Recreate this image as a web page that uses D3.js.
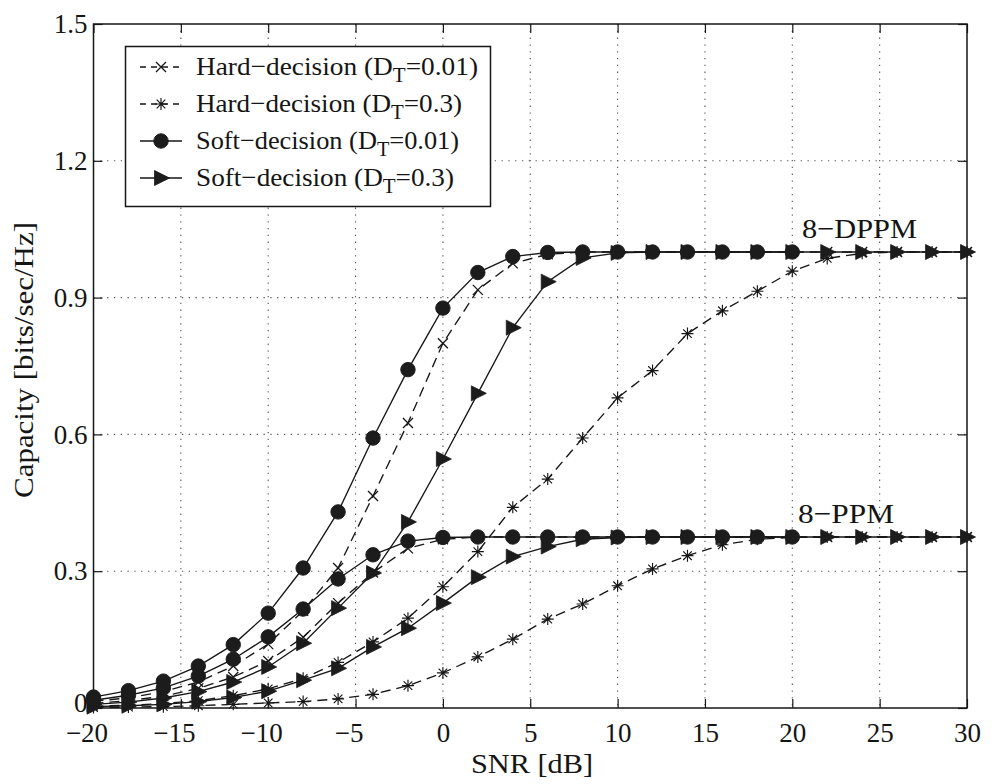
<!DOCTYPE html>
<html>
<head>
<meta charset="utf-8">
<script src="https://cdn.jsdelivr.net/npm/d3@7"></script>
<style>
  html, body { margin: 0; padding: 0; background: #fff; }
  svg { display: block; }
  text { font-family: "Liberation Serif", "Times New Roman", serif; fill: #151515; }
</style>
</head>
<body>
<svg id="chart" width="1006" height="784"></svg>
<script>
// ---------------- data ----------------
const snr = [-20,-18,-16,-14,-12,-10,-8,-6,-4,-2,0,2,4,6,8,10,12,14,16,18,20,22,24,26,28,30];
const snrCircle = [-20,-18,-16,-14,-12,-10,-8,-6,-4,-2,0,2,4,6,8,10,12,14,16,18,20];

// 8-DPPM curves
const hardDppm001 = [0.015,0.022,0.036,0.057,0.092,0.140,0.213,0.307,0.465,0.625,0.800,0.917,0.975,0.995,1.0,1.0,1.0,1.0,1.0,1.0,1.0,1.0,1.0,1.0,1.0,1.0];
const hardDppm03  = [0.004,0.006,0.010,0.016,0.027,0.042,0.065,0.100,0.145,0.197,0.266,0.343,0.440,0.502,0.592,0.680,0.740,0.821,0.871,0.914,0.958,0.986,0.997,1.0,1.0,1.0];
const softDppm001 = [0.024,0.038,0.059,0.092,0.139,0.208,0.307,0.430,0.592,0.742,0.877,0.955,0.990,0.999,1.0,1.0,1.0,1.0,1.0,1.0,1.0];
const softDppm03  = [0.008,0.013,0.022,0.036,0.057,0.090,0.142,0.219,0.296,0.408,0.546,0.690,0.834,0.935,0.987,0.998,1.0,1.0,1.0,1.0,1.0,1.0,1.0,1.0,1.0,1.0];

// 8-PPM curves
const hardPpm001 = [0.010,0.016,0.026,0.043,0.068,0.103,0.155,0.230,0.297,0.350,0.370,0.375,0.375,0.375,0.375,0.375,0.375,0.375,0.375,0.375,0.375,0.375,0.375,0.375,0.375,0.375];
const hardPpm03  = [0.001,0.002,0.003,0.005,0.008,0.011,0.014,0.020,0.030,0.049,0.077,0.112,0.151,0.195,0.228,0.268,0.305,0.334,0.358,0.370,0.374,0.375,0.375,0.375,0.375,0.375];
const softPpm001 = [0.017,0.028,0.044,0.070,0.107,0.156,0.217,0.283,0.336,0.366,0.374,0.375,0.375,0.375,0.375,0.375,0.375,0.375,0.375,0.375,0.375];
const softPpm03  = [0.003,0.005,0.008,0.014,0.023,0.037,0.061,0.087,0.134,0.175,0.230,0.287,0.332,0.354,0.370,0.374,0.375,0.375,0.375,0.375,0.375,0.375,0.375,0.375,0.375,0.375];

const xTicks = [-20,-15,-10,-5,0,5,10,15,20,25,30];
const yTicks = [0,0.3,0.6,0.9,1.2,1.5];
const yTickLabels = ["0","0.3","0.6","0.9","1.2","1.5"];
const legendLabels = [
  ["Hard\u2212decision (D","T","=0.01)"],
  ["Hard\u2212decision (D","T","=0.3)"],
  ["Soft\u2212decision (D","T","=0.01)"],
  ["Soft\u2212decision (D","T","=0.3)"]
];
const curveLabels = ["8\u2212DPPM","8\u2212PPM"];
const xTitle = "SNR [dB]";
const yTitle = "Capacity [bits/sec/Hz]";

// ---------------- layout ----------------
const svg = d3.select("#chart");
const L = 93.5, R = 967, T = 24, B = 708;
const x = d3.scaleLinear().domain([-20,30]).range([L,R]);
const y = d3.scaleLinear().domain([0,1.5]).range([B,T]);
const ink = "#161616";

function fitWidth(sel, w) {
  sel.attr("textLength", w).attr("lengthAdjust", "spacingAndGlyphs");
}

// grid
const grid = svg.append("g").attr("stroke", "#555").attr("stroke-width", 1.1)
  .attr("stroke-dasharray", "1.3,5.5");
grid.selectAll(".gx").data(xTicks.slice(1, -1)).join("line")
  .attr("x1", d => x(d)).attr("x2", d => x(d)).attr("y1", T).attr("y2", B);
grid.selectAll(".gy").data(yTicks.slice(1, -1)).join("line")
  .attr("y1", d => y(d)).attr("y2", d => y(d)).attr("x1", L).attr("x2", R);

// axes (inward ticks, matlab style)
const fmtX = d => (d < 0 ? "\u2212" + Math.abs(d) : String(d));
const axB = svg.append("g").attr("transform", `translate(0,${B})`)
  .call(d3.axisBottom(x).tickValues(xTicks).tickSize(-9).tickPadding(15).tickFormat(fmtX));
const axT = svg.append("g").attr("transform", `translate(0,${T})`)
  .call(d3.axisTop(x).tickValues(xTicks).tickSize(-9).tickFormat(""));
const axL = svg.append("g").attr("transform", `translate(${L},0)`)
  .call(d3.axisLeft(y).tickValues(yTicks).tickSize(-9).tickPadding(6).tickFormat((d,i) => yTickLabels[i]));
const axR = svg.append("g").attr("transform", `translate(${R},0)`)
  .call(d3.axisRight(y).tickValues(yTicks).tickSize(-9).tickFormat(""));
[axB, axT, axL, axR].forEach(a => {
  a.select(".domain").remove();
  a.selectAll("line").attr("stroke", ink).attr("stroke-width", 1.2);
  a.selectAll("text").attr("font-size", 27).attr("font-family", "Liberation Serif").attr("fill", ink);
});
axL.selectAll("text").attr("dy", d => (d === 0 ? "0.12em" : "0.32em"));
axB.selectAll("text").attr("dx", d => (d < 0 ? -7 : 0));

// frame
svg.append("rect").attr("x", L).attr("y", T).attr("width", R - L).attr("height", B - T)
  .attr("fill", "none").attr("stroke", ink).attr("stroke-width", 1.5);

// ---------------- markers ----------------
function drawMarker(g, type) {
  if (type === "circle") {
    g.append("circle").attr("r", 7.2).attr("fill", "#1c1c1c").attr("stroke", "#1c1c1c");
  } else if (type === "tri") {
    g.append("path").attr("d", "M-6.5,-7.5L8.5,0L-6.5,7.5Z").attr("fill", "#1c1c1c").attr("stroke", "#1c1c1c").attr("stroke-width", 0.8);
  } else if (type === "x") {
    g.append("path").attr("d", "M-5,-5L5,5M-5,5L5,-5")
      .attr("stroke", ink).attr("stroke-width", 1.3).attr("fill", "none");
  } else if (type === "star") {
    g.append("path").attr("d", "M-6,0L6,0M0,-6L0,6M-4.3,-4.3L4.3,4.3M-4.3,4.3L4.3,-4.3")
      .attr("stroke", ink).attr("stroke-width", 1.15).attr("fill", "none");
  }
}

const series = [
  { xs: snr, ys: hardDppm001, dash: "10,6", marker: "x" },
  { xs: snr, ys: hardPpm001,  dash: "10,6", marker: "x" },
  { xs: snr, ys: hardDppm03,  dash: "10,6", marker: "star" },
  { xs: snr, ys: hardPpm03,   dash: "10,6", marker: "star" },
  { xs: snr, ys: softDppm03,  dash: null,  marker: "tri" },
  { xs: snr, ys: softPpm03,   dash: null,  marker: "tri" },
  { xs: snrCircle, ys: softDppm001, dash: null, marker: "circle" },
  { xs: snrCircle, ys: softPpm001,  dash: null, marker: "circle" }
];

const line = d3.line().x(d => x(d[0])).y(d => y(d[1]));
const plot = svg.append("g");
series.forEach(s => {
  const pts = s.xs.map((v, i) => [v, s.ys[i]]);
  plot.append("path").datum(pts).attr("d", line)
    .attr("fill", "none").attr("stroke", ink).attr("stroke-width", 1.35)
    .attr("stroke-dasharray", s.dash);
  pts.forEach(p => {
    const g = plot.append("g").attr("transform", `translate(${x(p[0])},${y(p[1])})`);
    drawMarker(g, s.marker);
  });
});

// curve labels
const cl1 = svg.append("text").attr("x", 802).attr("y", 238).attr("font-size", 28).text(curveLabels[0]);
const cl2 = svg.append("text").attr("x", 798).attr("y", 523).attr("font-size", 28).text(curveLabels[1]);
fitWidth(cl1, 115);
fitWidth(cl2, 96);

// ---------------- legend ----------------
const lg = svg.append("g");
lg.append("rect").attr("x", 125.5).attr("y", 46.5).attr("width", 365).attr("height", 160)
  .attr("fill", "#fff").attr("stroke", ink).attr("stroke-width", 1.5);
const legendStyles = [
  { dash: "6,5", marker: "x" },
  { dash: "6,5", marker: "star" },
  { dash: null, marker: "circle" },
  { dash: null, marker: "tri" }
];
const legendWidths = [282, 266, 263, 258];
const rowY = [67, 104, 141, 178];
legendStyles.forEach((st, i) => {
  const yy = rowY[i];
  lg.append("line").attr("x1", 140).attr("x2", 182).attr("y1", yy).attr("y2", yy)
    .attr("stroke", ink).attr("stroke-width", 1.3).attr("stroke-dasharray", st.dash);
  const g = lg.append("g").attr("transform", `translate(161,${yy})`);
  drawMarker(g, st.marker);
  const t = lg.append("text").attr("x", 196).attr("y", yy + 8).attr("font-size", 26);
  t.append("tspan").text(legendLabels[i][0]);
  t.append("tspan").attr("dy", 7).attr("font-size", 20).text(legendLabels[i][1]);
  t.append("tspan").attr("dy", -7).text(legendLabels[i][2]);
  fitWidth(t, legendWidths[i]);
});

// axis titles
const xt = svg.append("text").attr("x", 532).attr("y", 773).attr("text-anchor", "middle")
  .attr("font-size", 28).text(xTitle);
fitWidth(xt, 122);
const yt = svg.append("text").attr("transform", "translate(33,360) rotate(-90)")
  .attr("text-anchor", "middle").attr("font-size", 28).text(yTitle);
fitWidth(yt, 276);
</script>
</body>
</html>
